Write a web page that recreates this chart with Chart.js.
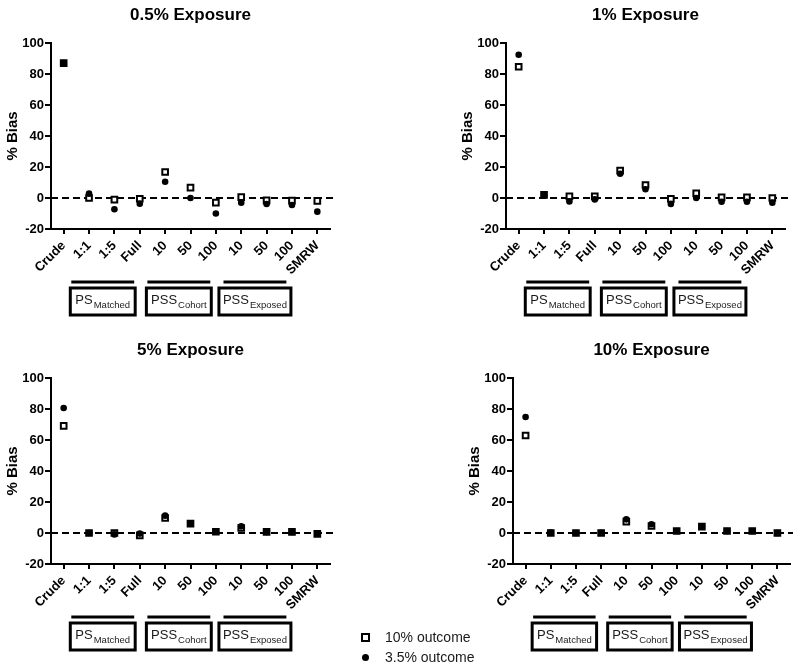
<!DOCTYPE html>
<html>
<head>
<meta charset="utf-8">
<script src="https://cdn.jsdelivr.net/npm/chart.js@4/dist/chart.umd.min.js"></script>
<style>
    body { margin: 0; background: #fff; }
    #wrap { position: relative; width: 800px; height: 669px; overflow: hidden; font-family: "Liberation Sans", Arial, sans-serif; }
    .panel { position: absolute; }
    .legend { position: absolute; left: 360px; top: 627px; font-size: 14px; color: #1a1a1a; }
    .legend div { height: 20px; line-height: 20px; position: relative; padding-left: 25px; }
    .legend .sq { position: absolute; left: 1px; top: 6px; width: 5px; height: 5px; border: 2px solid #000; background: #fff; }
    .legend .dot { position: absolute; left: 2px; top: 7px; width: 7px; height: 7px; border-radius: 50%; background: #000; }
</style>
</head>
<body>
<div id="wrap">
    <canvas id="c0" class="panel" style="left:0;top:0"></canvas>
    <canvas id="c1" class="panel" style="left:400px;top:0"></canvas>
    <canvas id="c2" class="panel" style="left:0;top:335px"></canvas>
    <canvas id="c3" class="panel" style="left:400px;top:335px"></canvas>
    <div class="legend">
        <div><span class="sq"></span>10% outcome</div>
        <div><span class="dot"></span>3.5% outcome</div>
    </div>
</div>
<script>
const categories = ['Crude', '1:1', '1:5', 'Full', '10', '50', '100', '10', '50', '100', 'SMRW'];
const yTicks = [-20, 0, 20, 40, 60, 80, 100];
const panelTitles = ['0.5% Exposure', '1% Exposure', '5% Exposure', '10% Exposure'];

// % bias per method
const outcome10_exp05 = [87, 0, -1, -0.5, 16.8, 6.7, -3, 0.6, -1.5, -1.7, -1.9];
const outcome35_exp05 = [87, 2.8, -7.3, -3.7, 10.5, 0, -10, -3, -3.9, -4.5, -8.8];
const outcome10_exp1 = [84.7, 2, 1, 1, 17.7, 8.4, -0.6, 3, 0.4, 0.4, 0];
const outcome35_exp1 = [92.4, 1.5, -2.2, -0.9, 15.6, 5.6, -3.9, 0, -2.4, -2.4, -3];
const outcome10_exp5 = [69.1, 0, 0, -1.5, 9.7, 6, 0.8, 3.2, 0.7, 0.7, -0.6];
const outcome35_exp5 = [80.6, 0, -0.9, -0.4, 11.2, 6, 1, 4.3, 0.7, 0.7, -0.2];
const outcome10_exp10 = [62.9, 0, 0, 0, 7.3, 4.5, 1.3, 4.1, 1.3, 1.3, 0];
const outcome35_exp10 = [74.8, 0.3, 0, 0.2, 8.8, 5.6, 1.3, 4.3, 1.3, 1.3, 0];

// method groups shown as boxed labels under the x axis
const groupNames = ['PS', 'PSS', 'PSS'];
const groupSubs = ['Matched', 'Cohort', 'Exposed'];
const groupFirst = [1, 4, 7];
const groupLast = [3, 6, 9];

const FONT = '"Liberation Sans", Arial, sans-serif';

const panels = [
    { id: 'c0', h: 335, padL: 0, padR: 70, sq: outcome10_exp05, ci: outcome35_exp05 },
    { id: 'c1', h: 335, padL: 55, padR: 15, sq: outcome10_exp1, ci: outcome35_exp1 },
    { id: 'c2', h: 334, padL: 0, padR: 70, sq: outcome10_exp5, ci: outcome35_exp5 },
    { id: 'c3', h: 334, padL: 62, padR: 10, sq: outcome10_exp10, ci: outcome35_exp10 },
];

const decorPlugin = {
    id: 'decor',
    beforeDatasetsDraw(chart) {
        const { ctx, chartArea, scales: { y } } = chart;
        const y0 = y.getPixelForValue(0);
        ctx.save();
        ctx.strokeStyle = '#000';
        ctx.lineWidth = 2;
        ctx.setLineDash([7, 4]);
        ctx.beginPath();
        ctx.moveTo(chartArea.left, y0);
        ctx.lineTo(chartArea.right + 3, y0);
        ctx.stroke();
        ctx.restore();
    },
    afterDraw(chart) {
        const { ctx, chartArea, scales: { x } } = chart;
        const w = x.width / categories.length;
        const barY = chartArea.bottom + 53;
        const boxTop = chartArea.bottom + 59;
        const boxH = 27;
        ctx.save();
        ctx.strokeStyle = '#000';
        ctx.fillStyle = '#1a1a1a';
        groupNames.forEach((name, i) => {
            const x1 = x.getPixelForValue(groupFirst[i]) - 0.7 * w;
            const x2 = x.getPixelForValue(groupLast[i]) - 0.22 * w;
            ctx.lineWidth = 3;
            ctx.beginPath();
            ctx.moveTo(x1, barY);
            ctx.lineTo(x2, barY);
            ctx.stroke();

            ctx.font = `13px ${FONT}`;
            const mainW = ctx.measureText(name).width;
            ctx.font = `9.5px ${FONT}`;
            const subW = ctx.measureText(groupSubs[i]).width;
            const textW = mainW + subW + 1;
            const bw = Math.max(x2 - x1 + 2, textW + 8);
            const bx = (x1 + x2) / 2 - bw / 2;
            ctx.strokeRect(bx, boxTop, bw, boxH);

            const tx = bx + (bw - textW) / 2;
            ctx.textAlign = 'left';
            ctx.textBaseline = 'alphabetic';
            ctx.font = `13px ${FONT}`;
            ctx.fillText(name, tx, boxTop + 16);
            ctx.font = `9.5px ${FONT}`;
            ctx.fillText(groupSubs[i], tx + mainW + 1, boxTop + 20);
        });
        ctx.restore();
    }
};

panels.forEach((p, idx) => {
    const canvas = document.getElementById(p.id);
    canvas.style.width = '400px';
    canvas.style.height = p.h + 'px';
    canvas.width = 400;
    canvas.height = p.h;

    new Chart(canvas, {
        type: 'line',
        data: {
            labels: categories,
            datasets: [
                {
                    label: '3.5% outcome',
                    data: p.ci,
                    showLine: false,
                    pointStyle: 'circle',
                    pointRadius: 3.3,
                    pointBackgroundColor: '#000',
                    pointBorderColor: '#000',
                    pointBorderWidth: 0,
                    order: 0
                },
                {
                    label: '10% outcome',
                    data: p.sq,
                    showLine: false,
                    pointStyle: 'rect',
                    pointRadius: 4,
                    pointBackgroundColor: '#fff',
                    pointBorderColor: '#000',
                    pointBorderWidth: 2,
                    order: 1
                }
            ]
        },
        options: {
            responsive: false,
            animation: false,
            layout: { padding: { left: p.padL, right: p.padR, top: 0, bottom: p.h - 229 - 60 } },
            plugins: {
                legend: { display: false },
                tooltip: { enabled: false },
                title: {
                    display: true,
                    text: panelTitles[idx],
                    fullSize: false,
                    color: '#000',
                    font: { family: FONT, size: 17, weight: 'bold' },
                    padding: { top: 5, bottom: 17.6 }
                }
            },
            scales: {
                x: {
                    offset: true,
                    afterFit: s => { s.height = 60; },
                    grid: { drawOnChartArea: false, drawTicks: true, tickLength: 5, color: '#000', lineWidth: 2 },
                    border: { display: true, color: '#000', width: 2 },
                    ticks: {
                        color: '#000',
                        font: { family: FONT, size: 13, weight: 'bold' },
                        minRotation: 45,
                        maxRotation: 45,
                        autoSkip: false,
                        padding: 4
                    }
                },
                y: {
                    min: -20,
                    max: 100,
                    afterFit: s => { s.width = 51; },
                    afterBuildTicks: s => { s.ticks = yTicks.map(v => ({ value: v })); },
                    grid: { drawOnChartArea: false, drawTicks: true, tickLength: 6, color: '#000', lineWidth: 2 },
                    border: { display: true, color: '#000', width: 2 },
                    ticks: {
                        color: '#000',
                        font: { family: FONT, size: 13, weight: 'bold' },
                        padding: 1
                    },
                    title: {
                        display: true,
                        text: '% Bias',
                        color: '#000',
                        font: { family: FONT, size: 15, weight: 'bold' },
                        padding: { top: 4, bottom: 0 }
                    }
                }
            }
        },
        plugins: [decorPlugin]
    });
});
</script>
</body>
</html>
